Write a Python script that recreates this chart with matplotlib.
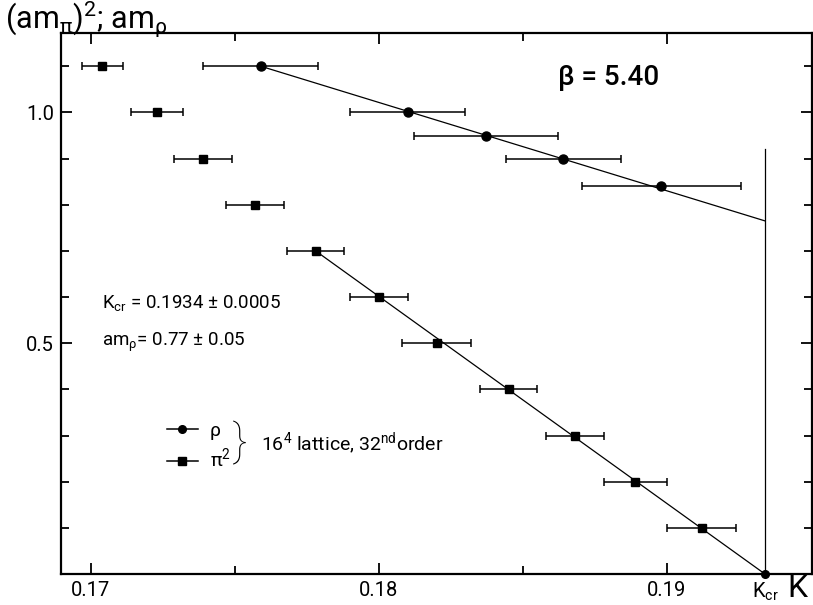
import matplotlib
matplotlib.use("Agg")
import matplotlib.pyplot as plt
from matplotlib.lines import Line2D
from matplotlib.ticker import MultipleLocator, FixedLocator

plt.rcParams['font.family'] = ['Roboto', 'DejaVu Sans']
plt.rcParams['mathtext.fontset'] = 'dejavusans'

# pion mass squared vs K (with K errors)
pi2_y = [1.1, 1.0, 0.9, 0.8, 0.7, 0.6, 0.5, 0.4, 0.3, 0.2, 0.1]
pi2_k = [0.1704, 0.1723, 0.1739, 0.1757, 0.1778, 0.1800, 0.1820, 0.1845, 0.1868, 0.1889, 0.1912]
pi2_kerr = [0.0007, 0.0009, 0.0010, 0.0010, 0.0010, 0.0010, 0.0012, 0.0010, 0.0010, 0.0011, 0.0012]

# rho mass vs K
rho_y = [1.1, 1.0, 0.95, 0.9, 0.84]
rho_k = [0.1759, 0.1810, 0.1837, 0.1864, 0.1898]
rho_kerr = [0.0020, 0.0020, 0.0025, 0.0020, 0.00275]

# critical hopping parameter and fit lines
k_cr = 0.1934
rho_fit_k = [0.1759, k_cr]
rho_fit_y = [1.1, 0.765]
pi2_fit_k = [0.1778, k_cr]
pi2_fit_y = [0.7, 0.0]
kcr_line_y = [0.0, 0.92]

xticks = [0.17, 0.18, 0.19, k_cr]
xticklabels = ['0.17', '0.18', '0.19', r'K$_{\mathregular{cr}}$']
yticks = [0.5, 1.0]
yticklabels = ['0.5', '1.0']

fig = plt.figure(figsize=(8.13, 6.05), dpi=100)
ax = fig.add_axes([0.075, 0.0512, 0.9237, 0.8942])

ax.errorbar(pi2_k, pi2_y, xerr=pi2_kerr, fmt='s', color='k', ms=5.5,
            elinewidth=1.1, capsize=3, capthick=1.1)
ax.errorbar(rho_k, rho_y, xerr=rho_kerr, fmt='o', color='k', ms=6.5,
            elinewidth=1.1, capsize=3, capthick=1.1)
ax.plot(rho_fit_k, rho_fit_y, color='k', lw=0.9)
ax.plot(pi2_fit_k, pi2_fit_y, color='k', lw=0.9)
ax.plot([k_cr, k_cr], kcr_line_y, color='k', lw=0.9)
ax.plot([k_cr], [0.0], 'o', color='k', ms=5.5, clip_on=False, zorder=5)

ax.set_xlim(0.16896, 0.19503)
ax.set_ylim(0.0, 1.172)

ax.xaxis.set_major_locator(FixedLocator(xticks))
ax.set_xticklabels(xticklabels)
ax.xaxis.set_minor_locator(FixedLocator([0.175, 0.185]))
ax.yaxis.set_major_locator(FixedLocator(yticks))
ax.set_yticklabels(yticklabels)
ax.yaxis.set_minor_locator(MultipleLocator(0.1))

ax.tick_params(which='both', direction='in', top=True, right=True, width=1.3,
               labelsize=14.5, pad=5)
ax.tick_params(which='major', length=8)
ax.tick_params(which='minor', length=6)
kcr_tick = ax.xaxis.get_major_ticks()[3]
kcr_tick.tick1line.set_visible(False)
kcr_tick.tick2line.set_visible(False)
for sp in ax.spines.values():
    sp.set_linewidth(1.6)

# axis labels
fig.text(0.006, 0.952, r'(am$_{\mathregular{π}}$)$^{\mathregular{2}}$; am$_{\mathregular{ρ}}$',
         fontsize=22, ha='left', va='baseline')
fig.text(0.981, 0.028, 'K', fontsize=23, ha='center', va='center')

# annotations
ax.text(0.1862, 1.075, 'β = 5.40', fontsize=20, va='center', fontweight='medium')
ax.text(0.1704, 0.585, r'K$_{\mathregular{cr}}$ = 0.1934 ± 0.0005', fontsize=13.5, va='center')
ax.text(0.1704, 0.502, r'am$_{\mathregular{ρ}}$= 0.77 ± 0.05', fontsize=13.5, va='center')

handles = [Line2D([], [], color='k', marker='o', ms=5.5, lw=1.1),
           Line2D([], [], color='k', marker='s', ms=5.5, lw=1.1)]
ax.legend(handles, ['ρ', 'π$^{\\mathregular{2}}$'], loc='center left',
          bbox_to_anchor=(0.128, 0.235), frameon=False, fontsize=14,
          handlelength=1.6, handletextpad=0.6, labelspacing=0.35, borderpad=0)
ax.text(0.17515, 0.285, '}', fontsize=32, va='center', ha='center', fontweight='light')
ax.text(0.1759, 0.282, r'16$^{\mathregular{4}}$ lattice, 32$^{\mathregular{nd}}$order',
        fontsize=14, va='center')

fig.savefig('out.png', dpi=100)
